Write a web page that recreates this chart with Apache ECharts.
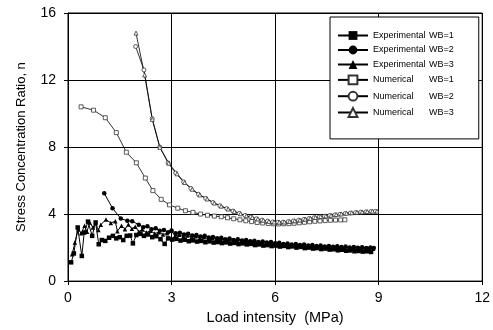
<!DOCTYPE html>
<html>
<head>
<meta charset="utf-8">
<script src="https://cdn.jsdelivr.net/npm/echarts@6/dist/echarts.min.js"></script>
<style>
  html, body { margin: 0; padding: 0; background: #fff; }
  #chart { width: 493px; height: 330px; }
</style>
</head>
<body>
<div id="chart"></div>
<script>
// series names
const names = ['Experimental WB=1', 'Experimental WB=2', 'Experimental WB=3',
  'Numerical WB=1', 'Numerical WB=2', 'Numerical WB=3']

// experimental, [load MPa, n]
const expWB1 = [[0.09,1.12],[0.17,1.65],[0.28,3.2],[0.4,1.5],[0.47,2.9],[0.58,3.55],[0.7,2.7],[0.8,3.5],[0.89,2.2],[0.98,2.45],[1.08,2.4],[1.19,2.59],[1.3,2.7],[1.4,2.55],[1.5,2.62],[1.6,2.45],[1.7,2.7],[1.8,2.72],[1.88,2.25],[1.98,2.75],[2.1,2.82],[2.2,2.7],[2.32,2.78],[2.44,2.62],[2.56,2.68],[2.68,2.5],[2.8,2.22],[2.9,2.55],[3.02,2.48],[3.14,2.52],[3.26,2.42],[3.38,2.47],[3.5,2.38],[3.62,2.43],[3.74,2.36],[3.86,2.4],[3.98,2.32],[4.1,2.37],[4.22,2.3],[4.34,2.33],[4.46,2.27],[4.58,2.31],[4.7,2.24],[4.82,2.28],[4.94,2.21],[5.06,2.25],[5.18,2.19],[5.3,2.22],[5.42,2.15],[5.54,2.19],[5.66,2.12],[5.78,2.15],[5.9,2.09],[6.02,2.12],[6.14,2.06],[6.26,2.1],[6.38,2.03],[6.5,2.07],[6.62,2.0],[6.74,2.04],[6.86,1.97],[6.98,2.0],[7.1,1.94],[7.22,1.97],[7.34,1.91],[7.46,1.94],[7.58,1.88],[7.7,1.9],[7.82,1.84],[7.94,1.87],[8.06,1.81],[8.18,1.83],[8.3,1.78],[8.42,1.8],[8.54,1.76],[8.66,1.78],[8.78,1.74]]
const expWB2 = [[1.05,5.24],[1.29,4.35],[1.53,3.73],[1.72,3.6],[1.86,3.57],[2.05,3.37],[2.18,3.22],[2.3,3.28],[2.42,3.1],[2.54,3.15],[2.66,3.0],[2.78,3.05],[2.9,2.92],[3.0,3.02],[3.12,2.85],[3.24,2.88],[3.36,2.78],[3.48,2.82],[3.6,2.72],[3.72,2.75],[3.84,2.66],[3.96,2.7],[4.08,2.6],[4.2,2.63],[4.32,2.55],[4.44,2.58],[4.56,2.5],[4.68,2.54],[4.8,2.46],[4.92,2.5],[5.04,2.42],[5.16,2.45],[5.28,2.38],[5.4,2.41],[5.52,2.34],[5.64,2.37],[5.76,2.3],[5.88,2.33],[6.0,2.26],[6.12,2.29],[6.24,2.22],[6.36,2.25],[6.48,2.19],[6.6,2.22],[6.72,2.16],[6.84,2.19],[6.96,2.13],[7.08,2.16],[7.2,2.1],[7.32,2.13],[7.44,2.07],[7.56,2.1],[7.68,2.05],[7.8,2.08],[7.92,2.03],[8.04,2.06],[8.16,2.01],[8.28,2.04],[8.4,1.99],[8.52,2.02],[8.64,1.98],[8.76,2.0],[8.86,1.97]]
const expWB3 = [[0.12,1.6],[0.2,2.3],[0.3,3.1],[0.38,2.85],[0.48,3.3],[0.55,2.95],[0.63,3.5],[0.72,3.2],[0.8,3.45],[0.88,3.05],[0.95,3.37],[1.1,3.67],[1.24,3.47],[1.37,3.57],[1.43,2.98],[1.55,3.3],[1.65,3.1],[1.75,3.38],[1.85,3.12],[1.95,3.25],[2.05,2.95],[2.15,3.08],[2.27,2.9],[2.39,3.0],[2.51,2.84],[2.63,2.92],[2.75,2.78],[2.87,2.85],[2.99,3.0],[3.1,2.7],[3.22,2.76],[3.34,2.66],[3.46,2.72],[3.58,2.62],[3.7,2.67],[3.82,2.57],[3.94,2.62],[4.06,2.52],[4.18,2.57],[4.3,2.48],[4.42,2.53],[4.54,2.44],[4.66,2.49],[4.78,2.4],[4.9,2.45],[5.02,2.36],[5.14,2.41],[5.26,2.33],[5.38,2.37],[5.5,2.29],[5.62,2.33],[5.74,2.25],[5.86,2.29],[5.98,2.21],[6.1,2.25],[6.22,2.17],[6.34,2.21],[6.46,2.14],[6.58,2.18],[6.7,2.11],[6.82,2.15],[6.94,2.08],[7.06,2.12],[7.18,2.05],[7.3,2.09],[7.42,2.03],[7.54,2.06],[7.66,2.0],[7.78,2.04],[7.9,1.98],[8.02,2.01],[8.14,1.96],[8.26,1.99],[8.38,1.94],[8.5,1.97],[8.62,1.92],[8.74,1.95],[8.84,1.93]]

// numerical
const numWB1 = [[0.38,10.4],[0.74,10.2],[1.08,9.75],[1.4,8.86],[1.69,7.69],[1.98,7.06],[2.24,6.15],[2.46,5.4],[2.7,4.88],[2.94,4.55],[3.18,4.35],[3.4,4.2],[3.62,4.1],[3.84,4.0],[4.04,3.93],[4.24,3.88],[4.44,3.84],[4.62,3.78],[4.8,3.72],[4.98,3.66],[5.15,3.6],[5.32,3.55],[5.48,3.5],[5.64,3.47],[5.8,3.44],[5.95,3.42],[6.1,3.41],[6.25,3.42],[6.4,3.43],[6.55,3.45],[6.7,3.48],[6.85,3.51],[7.0,3.54],[7.15,3.57],[7.3,3.59],[7.45,3.61],[7.6,3.63],[7.75,3.64],[7.9,3.65],[8.02,3.66]]
const numWB2 = [[1.96,14.0],[2.2,12.6],[2.44,9.7],[2.66,8.0],[2.9,7.05],[3.12,6.45],[3.35,5.92],[3.56,5.53],[3.78,5.18],[3.99,4.94],[4.2,4.69],[4.4,4.5],[4.6,4.33],[4.78,4.18],[4.96,4.04],[5.13,3.92],[5.3,3.82],[5.46,3.72],[5.62,3.64],[5.78,3.58],[5.93,3.53],[6.08,3.51],[6.23,3.52],[6.38,3.55],[6.53,3.59],[6.68,3.63],[6.83,3.68],[6.98,3.73],[7.13,3.78],[7.28,3.83],[7.43,3.87],[7.58,3.91],[7.73,3.95],[7.88,3.99],[8.03,4.03],[8.18,4.06],[8.33,4.09],[8.48,4.11],[8.63,4.13],[8.78,4.15],[8.9,4.16]]
const numWB3 = [[1.97,14.8],[2.22,12.3],[2.44,9.65],[2.66,7.98],[2.92,7.04],[3.16,6.4],[3.38,5.88],[3.6,5.48],[3.82,5.14],[4.03,4.9],[4.24,4.66],[4.44,4.47],[4.64,4.3],[4.82,4.16],[5.0,4.02],[5.17,3.9],[5.34,3.8],[5.5,3.71],[5.66,3.63],[5.82,3.57],[5.97,3.53],[6.12,3.52],[6.27,3.53],[6.42,3.56],[6.57,3.6],[6.72,3.65],[6.87,3.7],[7.02,3.75],[7.17,3.8],[7.32,3.85],[7.47,3.89],[7.62,3.93],[7.77,3.97],[7.92,4.01],[8.07,4.05],[8.22,4.08],[8.37,4.11],[8.52,4.13],[8.67,4.15],[8.82,4.17],[8.95,4.18]]

const chart = echarts.init(document.getElementById('chart'))

const fontName = 'Liberation Sans'
const expSeries = (name, data, symbol) => ({
  name: name,
  type: 'line',
  data: data,
  symbol: symbol,
  symbolSize: 4.5,
  lineStyle: { color: '#000', width: 1 },
  itemStyle: { color: '#000' }
})
const numSeries = (name, data, symbol) => ({
  name: name,
  type: 'line',
  data: data,
  symbol: symbol,
  symbolSize: 4,
  lineStyle: { color: '#000', width: 0.8 },
  itemStyle: { color: '#fff', borderColor: '#333', borderWidth: 0.8 }
})

chart.setOption({
  animation: false,
  backgroundColor: '#fff',
  textStyle: { fontFamily: fontName, color: '#000' },
  grid: {
    left: 68,
    right: 7,
    top: 13,
    bottom: 46,
    show: true,
    borderColor: '#000',
    borderWidth: 1
  },
  legend: {
    orient: 'vertical',
    left: 330,
    top: 17,
    padding: [14, 25, 21, 7],
    itemWidth: 30,
    itemHeight: 11,
    itemGap: 5.5,
    itemTextGap: 10,
    backgroundColor: '#fff',
    borderColor: '#000',
    borderWidth: 1,
    data: names,
    formatter: function (name) {
      const parts = name.split(' ')
      return '{a|' + parts[0] + '}{b|' + parts[1] + '}'
    },
    textStyle: {
      fontFamily: fontName,
      fontSize: 9,
      color: '#000',
      rich: {
        a: { width: 56, fontSize: 9, fontFamily: fontName, color: '#000' },
        b: { fontSize: 9, fontFamily: fontName, color: '#000' }
      }
    }
  },
  xAxis: {
    type: 'value',
    min: 0,
    max: 12,
    interval: 3,
    name: 'Load intensity  (MPa)',
    nameLocation: 'middle',
    nameGap: 17,
    nameTextStyle: { fontSize: 14.5, fontFamily: fontName, color: '#000' },
    axisLine: { show: true, lineStyle: { color: '#000', width: 1 } },
    axisTick: { show: true, inside: false, length: 4, lineStyle: { color: '#000' } },
    axisLabel: { fontSize: 14, margin: 10, color: '#000', fontFamily: fontName },
    splitLine: { show: true, lineStyle: { color: '#000', width: 1 } }
  },
  yAxis: {
    type: 'value',
    min: 0,
    max: 16,
    interval: 4,
    name: 'Stress Concentration Ratio, n',
    nameLocation: 'middle',
    nameGap: 40,
    nameTextStyle: { fontSize: 13, fontFamily: fontName, color: '#000' },
    axisLine: { show: true, lineStyle: { color: '#000', width: 1 } },
    axisTick: { show: true, inside: false, length: 4, lineStyle: { color: '#000' } },
    axisLabel: { fontSize: 14, margin: 12, color: '#000', fontFamily: fontName },
    splitLine: { show: true, lineStyle: { color: '#000', width: 1 } }
  },
  series: [
    expSeries(names[0], expWB1, 'rect'),
    expSeries(names[1], expWB2, 'circle'),
    expSeries(names[2], expWB3, 'triangle'),
    numSeries(names[3], numWB1, 'rect'),
    numSeries(names[4], numWB2, 'circle'),
    numSeries(names[5], numWB3, 'triangle')
  ]
})
</script>
</body>
</html>
